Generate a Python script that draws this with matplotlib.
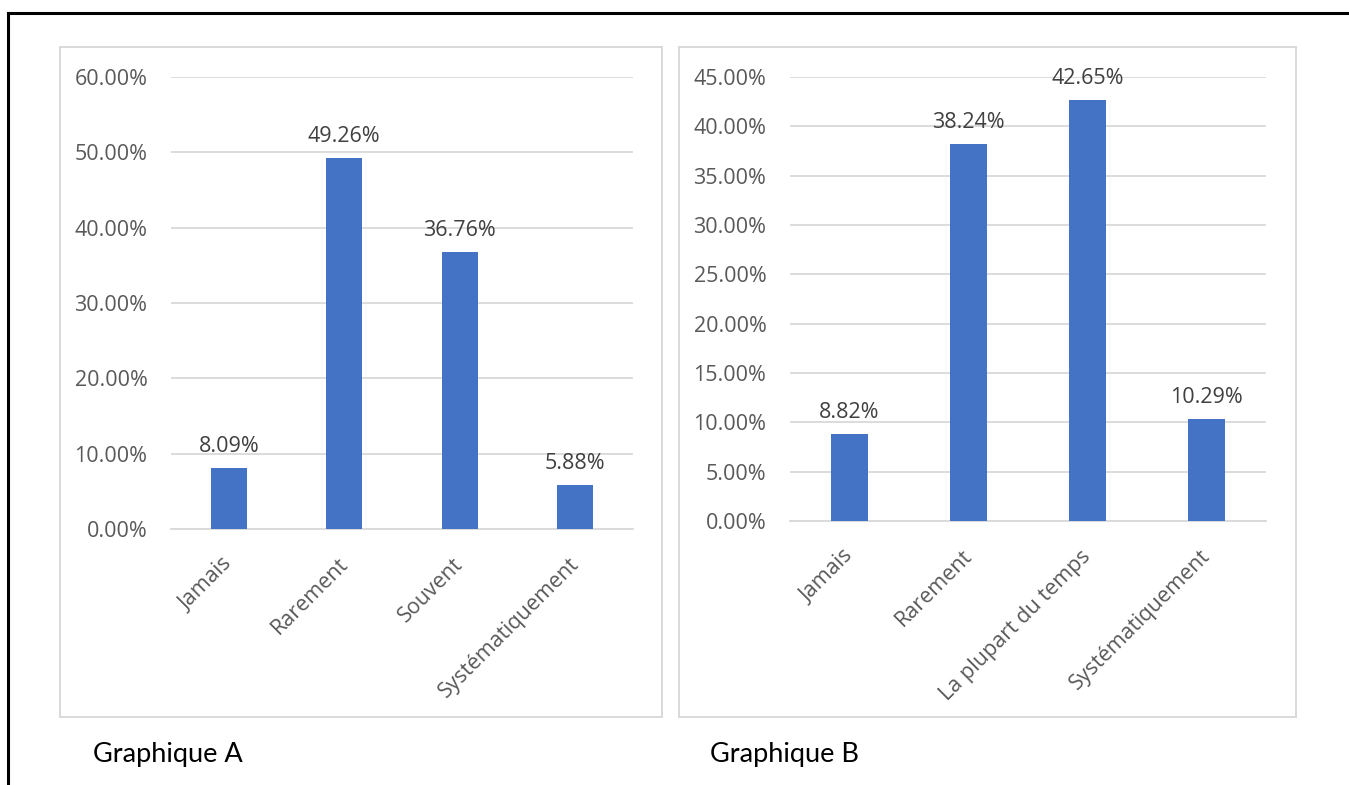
import matplotlib
matplotlib.use("Agg")
import matplotlib.pyplot as plt
from matplotlib.patches import Rectangle
from matplotlib.lines import Line2D
from matplotlib.ticker import FuncFormatter, MultipleLocator
from matplotlib.transforms import ScaledTranslation

# ---- data ----
cats_a = ["Jamais", "Rarement", "Souvent", "Systématiquement"]
vals_a = [8.09, 49.26, 36.76, 5.88]
cats_b = ["Jamais", "Rarement", "La plupart du temps", "Systématiquement"]
vals_b = [8.82, 38.24, 42.65, 10.29]
caption_a = "Graphique A"
caption_b = "Graphique B"

W, H, DPI = 1349, 785, 100
plt.rcParams['font.family'] = ['Open Sans', 'DejaVu Sans']
fig = plt.figure(figsize=(W / DPI, H / DPI), dpi=DPI)

BAR = "#4472C4"
GRID = "#D9D9D9"
TXT = "#595959"
FS = 15.5


def fx(px):
    return px / W


def fy(py):
    return 1 - py / H


# outer black border (top and left only)
fig.add_artist(Line2D([fx(8), fx(8)], [fy(13), 0], color="black", lw=2.2,
                      transform=fig.transFigure))
fig.add_artist(Line2D([fx(8), 1], [fy(13), fy(13)], color="black", lw=2.2,
                      transform=fig.transFigure))

# chart panel borders
for x0, x1 in [(60, 662), (679, 1296)]:
    fig.add_artist(Rectangle((fx(x0), fy(717)), fx(x1) - fx(x0), fy(47) - fy(717),
                             transform=fig.transFigure, fill=False,
                             edgecolor=GRID, lw=1.4))


def make_chart(left, right, top, bottom, cats, vals, ymax, step):
    ax = fig.add_axes([fx(left), fy(bottom), fx(right) - fx(left), fy(top) - fy(bottom)])
    x = list(range(len(cats)))
    ax.bar(x, vals, width=0.31, color=BAR, zorder=3)
    ax.set_xlim(-0.5, len(cats) - 0.5)
    ax.set_ylim(0, ymax)
    ax.yaxis.set_major_locator(MultipleLocator(step))
    ax.yaxis.set_major_formatter(FuncFormatter(lambda v, p: f"{v:.2f}%"))
    ax.grid(axis="y", color=GRID, lw=1.3, zorder=0)
    for s in ["top", "right", "left"]:
        ax.spines[s].set_visible(False)
    ax.spines["bottom"].set_color(GRID)
    ax.spines["bottom"].set_linewidth(1.3)
    ax.tick_params(axis="both", length=0, colors=TXT, labelsize=FS)
    ax.tick_params(axis="y", pad=17)
    ax.tick_params(axis="x", pad=18)
    ax.set_xticks(x)
    ax.set_xticklabels(cats, rotation=45, ha="right", va="top", rotation_mode="anchor")
    for lab in ax.get_xticklabels():
        lab.set_transform(lab.get_transform() + ScaledTranslation(-0.07, 0, fig.dpi_scale_trans))
    for xi, v in zip(x, vals):
        ax.annotate(f"{v:.2f}%", (xi, v), xytext=(0, 11), textcoords="offset pixels",
                    ha="center", va="bottom", fontsize=FS, color="#404040")
    return ax


make_chart(171, 633, 77, 529, cats_a, vals_a, 60, 10)
make_chart(790, 1266, 77, 521, cats_b, vals_b, 45, 5)

fig.text(fx(93), fy(762), caption_a, fontsize=19.5, color="black", family=["Lato", "DejaVu Sans"])
fig.text(fx(710), fy(762), caption_b, fontsize=19.5, color="black", family=["Lato", "DejaVu Sans"])

fig.savefig("out.png", dpi=DPI)
